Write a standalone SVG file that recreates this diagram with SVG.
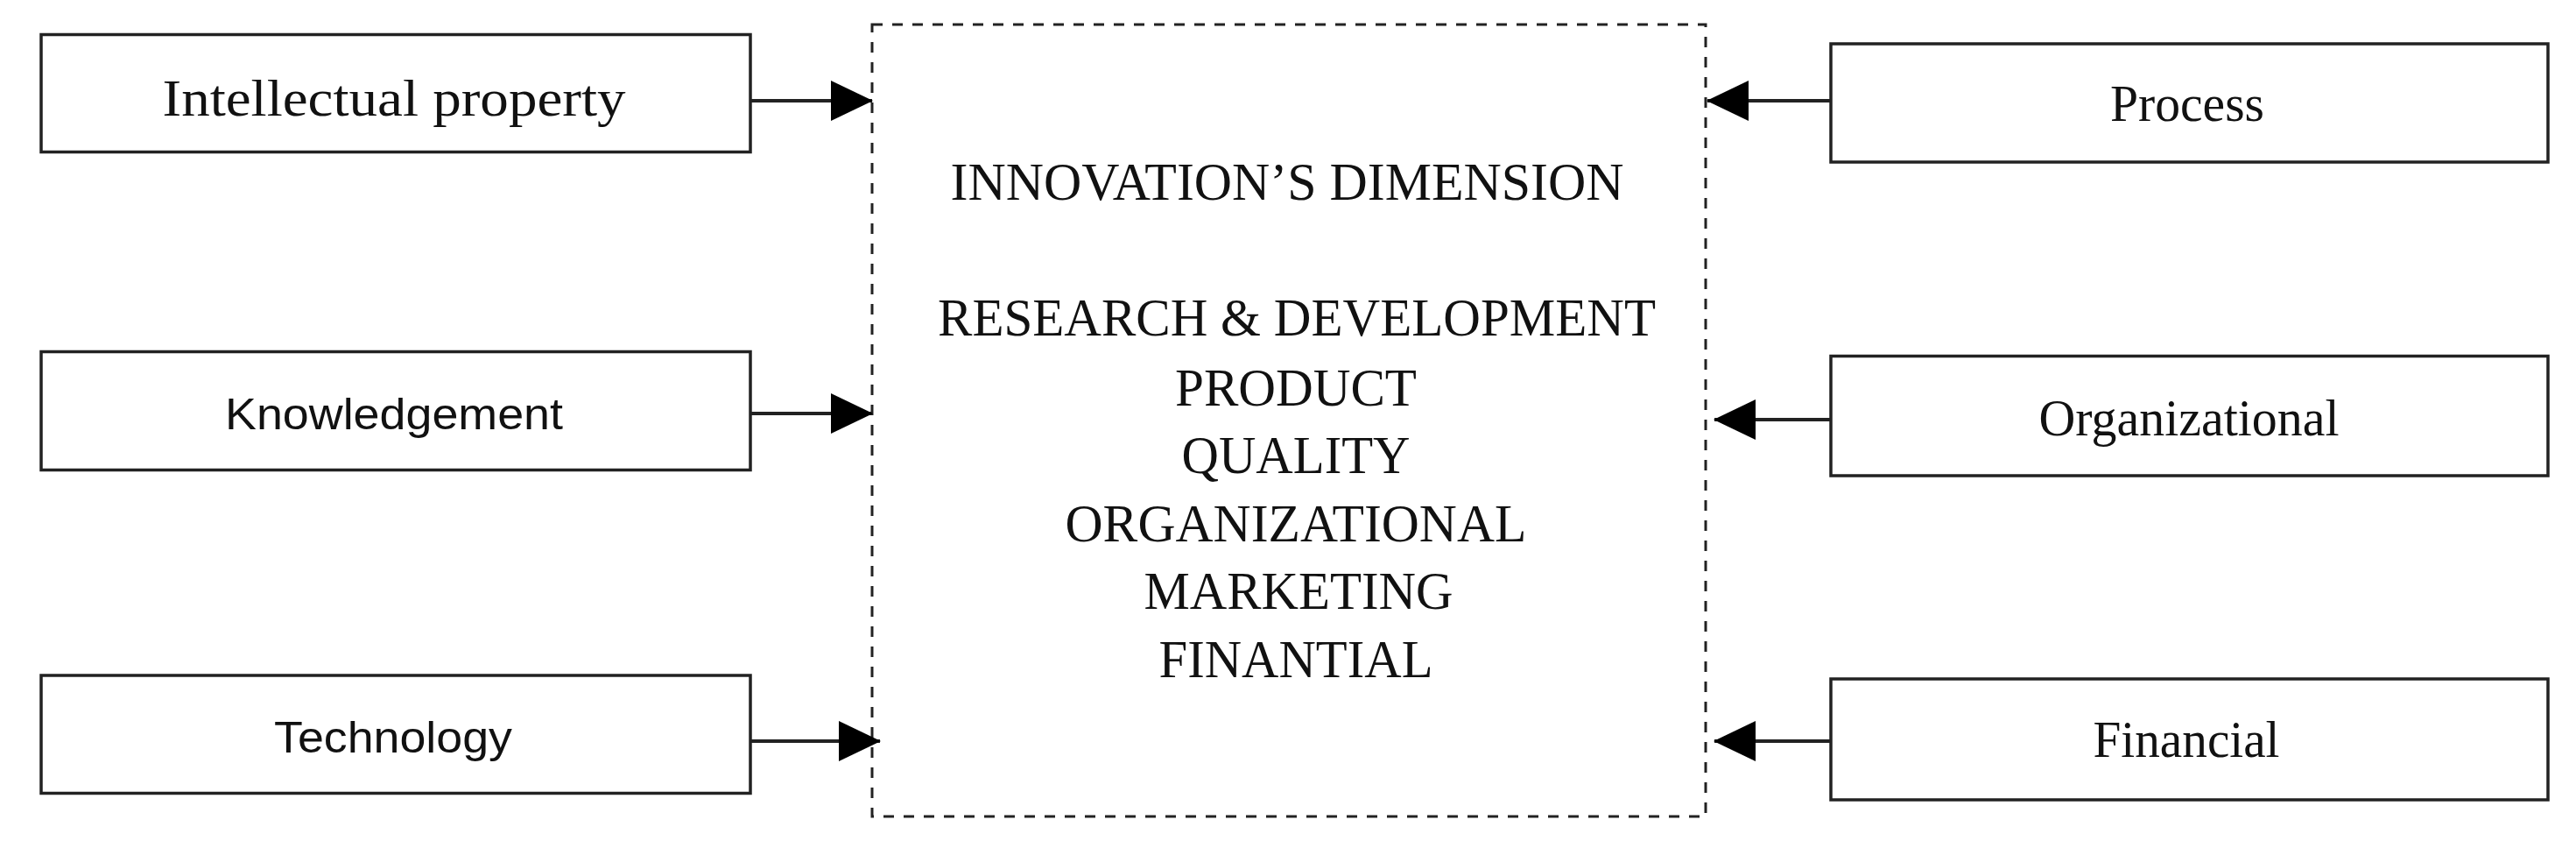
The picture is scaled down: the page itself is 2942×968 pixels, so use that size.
<svg xmlns="http://www.w3.org/2000/svg" width="2942" height="968" viewBox="0 0 2942 968">
  <style>
    .box { fill: #ffffff; stroke: #222222; stroke-width: 3.5; }
    .dash { fill: none; stroke: #222222; stroke-width: 3; stroke-dasharray: 12 11; }
    .conn { stroke: #222222; stroke-width: 4; fill: none; }
    .serif { font-family: "Liberation Serif", "Times New Roman", serif; fill: #111111; text-anchor: middle; }
    .sans { font-family: "Liberation Sans", Arial, sans-serif; fill: #111111; text-anchor: middle; }
    .lbl { font-size: 60px; }
    .center { font-size: 62px; }
  </style>
  <defs>
    <marker id="arrow" markerUnits="userSpaceOnUse" markerWidth="48" markerHeight="46" refX="47" refY="23" orient="auto">
      <path d="M0,0 L48,23 L0,46 Z" fill="#000000"/>
    </marker>
  </defs>
  <rect width="2942" height="968" fill="#ffffff"/>

  <g id="innovation-dimension">
    <rect class="dash" x="996" y="28" width="952" height="904"/>
    <text class="serif center" x="1470" y="228" textLength="769" lengthAdjust="spacingAndGlyphs">INNOVATION’S DIMENSION</text>
    <text class="serif center" x="1481" y="383" textLength="820" lengthAdjust="spacingAndGlyphs">RESEARCH &amp; DEVELOPMENT</text>
    <text class="serif center" x="1480" y="463" textLength="276" lengthAdjust="spacingAndGlyphs">PRODUCT</text>
    <text class="serif center" x="1480" y="540" textLength="261" lengthAdjust="spacingAndGlyphs">QUALITY</text>
    <text class="serif center" x="1480" y="618" textLength="527" lengthAdjust="spacingAndGlyphs">ORGANIZATIONAL</text>
    <text class="serif center" x="1483" y="695" textLength="353" lengthAdjust="spacingAndGlyphs">MARKETING</text>
    <text class="serif center" x="1480" y="773" textLength="313" lengthAdjust="spacingAndGlyphs">FINANTIAL</text>
  </g>

  <g id="intellectual-property">
    <rect class="box" x="47" y="39.5" width="810" height="134"/>
    <text class="serif lbl" x="450" y="132" textLength="529" lengthAdjust="spacingAndGlyphs">Intellectual property</text>
  </g>
  <g id="knowledgement">
    <rect class="box" x="47" y="401.5" width="810" height="135"/>
    <text class="sans" font-size="50" x="450" y="490" textLength="386" lengthAdjust="spacingAndGlyphs">Knowledgement</text>
  </g>
  <g id="technology">
    <rect class="box" x="47" y="771" width="810" height="134.5"/>
    <text class="sans" font-size="50" x="449" y="859" textLength="272" lengthAdjust="spacingAndGlyphs">Technology</text>
  </g>

  <g id="process">
    <rect class="box" x="2091" y="50" width="819" height="135"/>
    <text class="serif lbl" x="2498" y="138" textLength="176" lengthAdjust="spacingAndGlyphs">Process</text>
  </g>
  <g id="organizational">
    <rect class="box" x="2091" y="406.5" width="819" height="136.5"/>
    <text class="serif lbl" x="2500" y="497" textLength="343" lengthAdjust="spacingAndGlyphs">Organizational</text>
  </g>
  <g id="financial">
    <rect class="box" x="2091" y="775" width="819" height="138"/>
    <text class="serif lbl" x="2497" y="864" textLength="213" lengthAdjust="spacingAndGlyphs">Financial</text>
  </g>

  <g id="connectors">
    <line class="conn" x1="857" y1="115" x2="996" y2="115" marker-end="url(#arrow)"/>
    <line class="conn" x1="857" y1="472" x2="996" y2="472" marker-end="url(#arrow)"/>
    <line class="conn" x1="857" y1="846" x2="1005" y2="846" marker-end="url(#arrow)"/>
    <line class="conn" x1="2091" y1="115" x2="1950" y2="115" marker-end="url(#arrow)"/>
    <line class="conn" x1="2091" y1="479" x2="1958" y2="479" marker-end="url(#arrow)"/>
    <line class="conn" x1="2091" y1="846" x2="1958" y2="846" marker-end="url(#arrow)"/>
  </g>
</svg>
